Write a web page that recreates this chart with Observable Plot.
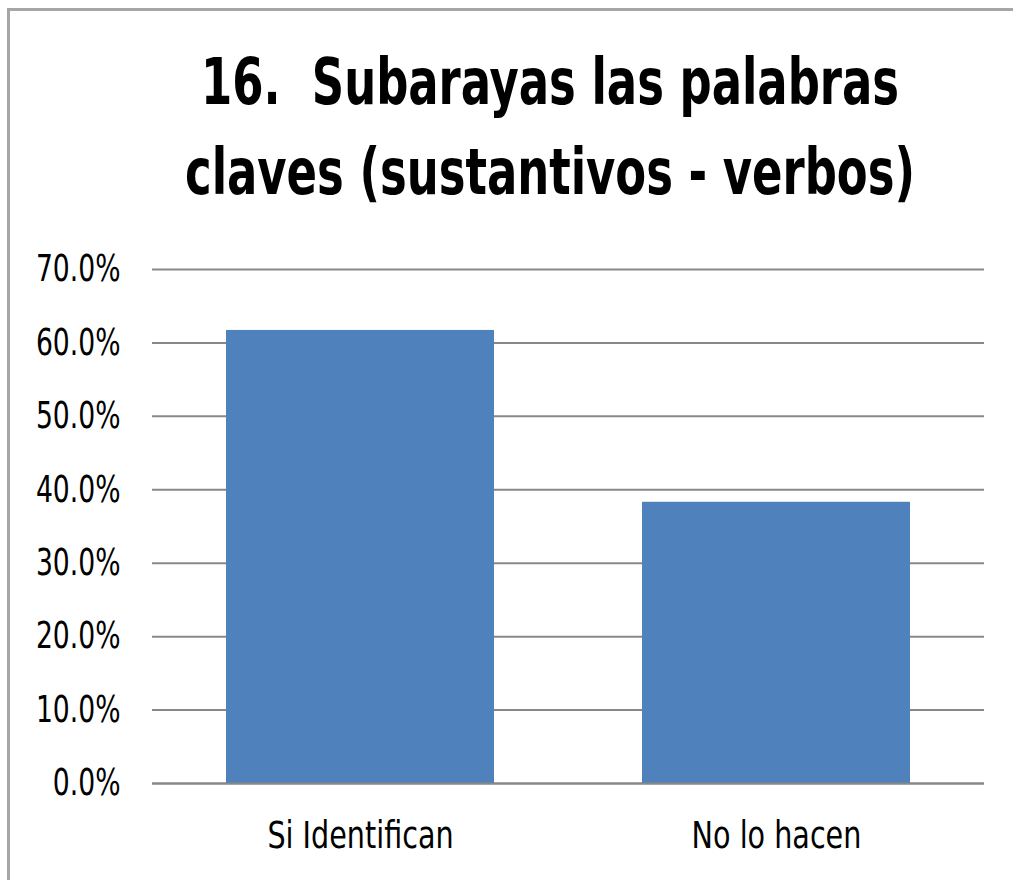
<!DOCTYPE html>
<html>
<head>
<meta charset="utf-8">
<script src="https://cdn.jsdelivr.net/npm/d3@7"></script>
<script src="https://cdn.jsdelivr.net/npm/@observablehq/plot@0.6"></script>
<style>
  html, body { margin: 0; padding: 0; background: #fff; overflow: hidden; }
  #wrap { position: relative; width: 1013px; height: 880px; overflow: hidden; }
  #frame { position: absolute; left: 7px; top: 8px; width: 1200px; height: 1000px;
           border-left: 3px solid #a6a6a6; border-top: 3px solid #a6a6a6; }
  #title { position: absolute; left: 0; top: 37px; width: 1100px; text-align: center;
           font-family: "Liberation Sans Narrow", "DejaVu Sans Condensed", sans-serif;
           font-weight: bold; font-size: 64px; line-height: 90px; color: #000; }
  #title div { transform: scaleX(0.78); transform-origin: 550px 50%; white-space: nowrap; }
  #chart { position: absolute; left: 0; top: 230px; }
</style>
</head>
<body>
<div id="wrap">
  <div id="frame"></div>
  <div id="title"><div>16.&nbsp; Subarayas las palabras</div><div>claves (sustantivos - verbos)</div></div>
  <div id="chart"></div>
</div>
<script>
const categories = ["Si Identifican", "No lo hacen"];
const values = [0.617, 0.383];
const yTicks = [0, 0.1, 0.2, 0.3, 0.4, 0.5, 0.6, 0.7];

const data = categories.map((c, i) => ({category: c, value: values[i]}));
const font = "'Liberation Sans Narrow', 'DejaVu Sans Condensed', sans-serif";

const plot = Plot.plot({
  width: 1013,
  height: 650,
  marginTop: 39,
  marginBottom: 97,
  marginLeft: 152,
  marginRight: 29,
  style: {fontFamily: font, fontSize: "37px", color: "#000", background: "transparent"},
  x: {domain: categories, paddingInner: 0.356, paddingOuter: 0.178, label: null},
  y: {domain: [0, 0.7], label: null},
  marks: [
    Plot.gridY(yTicks, {stroke: "#888", strokeOpacity: 1, strokeWidth: 2}),
    Plot.barY(data, {x: "category", y: "value", fill: "#4F81BD"}),
    Plot.ruleY([0], {stroke: "#888", strokeWidth: 2}),
    Plot.ruleX([0], {x: () => null, frameAnchor: "left", stroke: "#888", strokeWidth: 2}),
    Plot.axisY(yTicks, {tickFormat: d3.format(".1%"), tickSize: 0, tickPadding: 32, fontSize: 37, label: null, className: "yax"}),
    Plot.axisX({tickSize: 0, tickPadding: 38, fontSize: 37, label: null, className: "xax"})
  ]
});
document.getElementById("chart").appendChild(plot);

// Condense text to mimic the narrow original typeface
function condense(sel, factor) {
  plot.querySelectorAll(sel).forEach(t => {
    const len = t.getComputedTextLength();
    t.setAttribute("textLength", (len * factor).toFixed(1));
    t.setAttribute("lengthAdjust", "spacingAndGlyphs");
  });
}
condense("g[aria-label='y-axis tick label'] text", 0.8);
condense("g[aria-label='x-axis tick label'] text", 0.86);
</script>
</body>
</html>
